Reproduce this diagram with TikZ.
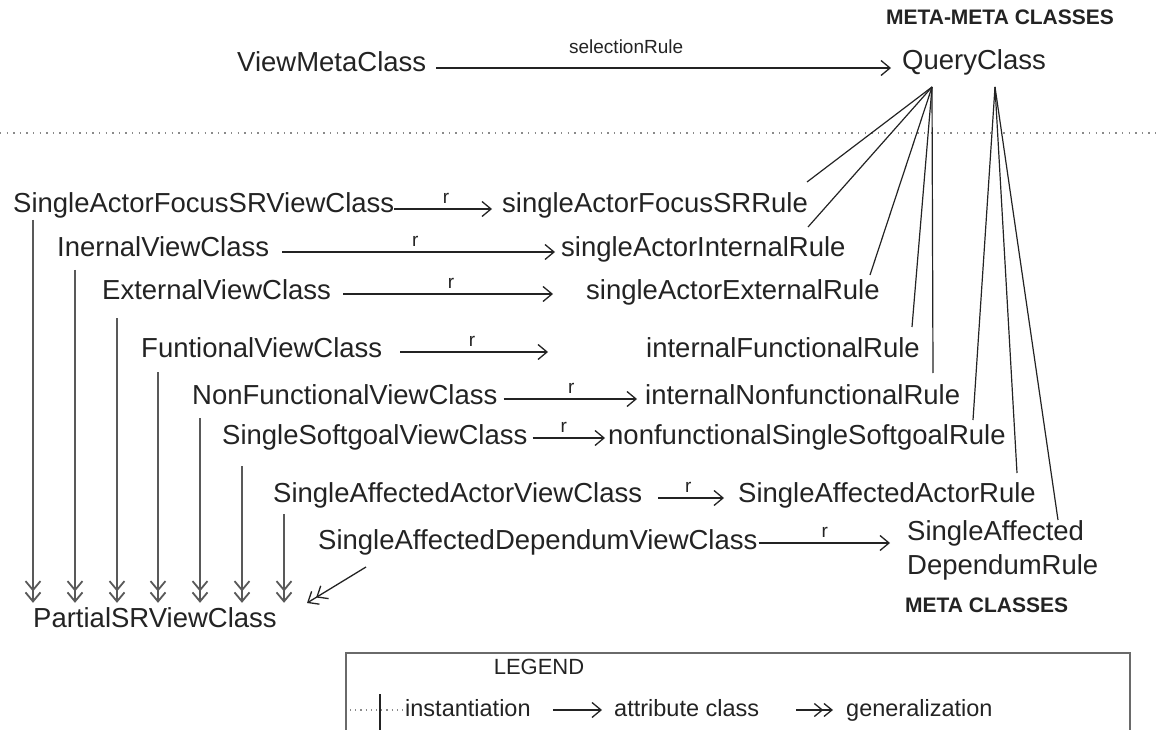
\documentclass[tikz,border=0pt]{standalone}
\usepackage{fontspec}
\setmainfont{Liberation Sans}
\usetikzlibrary{arrows.meta}
\definecolor{ink}{HTML}{232323}
\definecolor{stem}{HTML}{595959}
\definecolor{frame}{HTML}{6A6A6A}
\definecolor{dots}{HTML}{8A8A8A}

\begin{document}
\begin{tikzpicture}[x=1pt,y=-1pt,
  cls/.style={anchor=west, inner sep=0pt, text height=20pt, text depth=6pt,
              font=\fontsize{27.5}{30}\selectfont, text=ink},
  head/.style={inner sep=0pt, font=\bfseries\fontsize{21}{24}\selectfont, text=ink},
  leg/.style={anchor=west, inner sep=0pt, text height=17pt, text depth=5pt,
              font=\fontsize{23.5}{26}\selectfont, text=ink},
  lbl/.style={font=\fontsize{19}{21}\selectfont, text=ink, inner sep=0pt, above=5pt},
  attr/.style={draw=ink, line width=1.3pt,
               -{Straight Barb[length=9pt,width=15pt]}},
  gen/.style={draw=stem, line width=1.8pt,
              -{Straight Barb[length=9pt,width=15pt]Straight Barb[length=9pt,width=15pt]}},
  legen/.style={draw=ink, line width=1.3pt,
              -{Straight Barb[length=8pt,width=13pt]Straight Barb[length=8pt,width=13pt]}},
  inst/.style={draw=ink, line width=1.2pt},
  sep/.style={draw=dots, line width=1.4pt, dash pattern=on 1.4pt off 5.2pt},
]
\useasboundingbox (0,0) rectangle (1160,730);

% ---------- meta-meta level ----------
\node[head] (mmc) at (1000,17) {META-META CLASSES};
\node[cls] (vmc) at (237,65) {ViewMetaClass};
\node[cls] (qc)  at (902,63) {QueryClass};
\draw[attr, shorten <=10pt, shorten >=11pt] ([yshift=-3pt]vmc.east) -- ([yshift=-3pt]vmc.east -| qc.west)
  node[lbl, pos=0.42, above=9pt] {selectionRule};

\draw[sep] (0,133) -- (1160,133);

% ---------- meta level: view classes and their rules ----------
\node[cls] (v1) at (13,206)  {SingleActorFocusSRViewClass};
\node[cls] (r1) at (502,206) {singleActorFocusSRRule};
\node[cls] (v2) at (57,250)  {InernalViewClass};
\node[cls] (r2) at (561,250) {singleActorInternalRule};
\node[cls] (v3) at (102,292) {ExternalViewClass};
\node[cls] (r3) at (586,292) {singleActorExternalRule};
\node[cls] (v4) at (141,350) {FuntionalViewClass};
\node[cls] (r4) at (646,350) {internalFunctionalRule};
\node[cls] (v5) at (192,397) {NonFunctionalViewClass};
\node[cls] (r5) at (645,397) {internalNonfunctionalRule};
\node[cls] (v6) at (222,437) {SingleSoftgoalViewClass};
\node[cls] (r6) at (608,437) {nonfunctionalSingleSoftgoalRule};
\node[cls] (v7) at (273,495) {SingleAffectedActorViewClass};
\node[cls] (r7) at (738,495) {SingleAffectedActorRule};
\node[cls] (v8) at (318,542) {SingleAffectedDependumViewClass};
\node[cls] (r8) at (907,533) {SingleAffected};
\node[cls] (r8b) at (907,567) {DependumRule};
\node[head, anchor=west] (mc) at (905,605) {META CLASSES};
\node[cls] (p) at (33,620) {PartialSRViewClass};

% attribute links (r)
\draw[attr, shorten >=10pt] ([yshift=-3pt]v1.east) -- ([yshift=-3pt]v1.east -| r1.west) node[lbl, pos=0.48] {r};
\draw[attr, shorten <=13pt, shorten >=6pt] ([yshift=-2pt]v2.east) -- ([yshift=-2pt]v2.east -| r2.west) node[lbl, pos=0.5] {r};
\draw[attr, shorten <=12pt, shorten >=33pt] ([yshift=-2pt]v3.east) -- ([yshift=-2pt]v3.east -| r3.west) node[lbl, pos=0.47] {r};
\draw[attr, shorten <=18pt, shorten >=98pt] ([yshift=-2pt]v4.east) -- ([yshift=-2pt]v4.east -| r4.west) node[lbl, pos=0.34] {r};
\draw[attr, shorten <=6pt, shorten >=8pt] ([yshift=-2pt]v5.east) -- ([yshift=-2pt]v5.east -| r5.west) node[lbl, pos=0.5] {r};
\draw[attr, shorten <=5pt, shorten >=3pt] ([yshift=-1pt]v6.east) -- ([yshift=-1pt]v6.east -| r6.west) node[lbl, pos=0.45] {r};
\draw[attr, shorten <=16pt, shorten >=14pt] ([yshift=-3pt]v7.east) -- ([yshift=-3pt]v7.east -| r7.west) node[lbl, pos=0.48] {r};
\draw[attr, shorten <=1pt, shorten >=17pt] ([yshift=-1pt]v8.east) -- ([yshift=-1pt]v8.east -| r8.west) node[lbl, pos=0.45] {r};

% instantiation links from QueryClass
\coordinate (qa) at (932,87);
\coordinate (qb) at (995,87);
\coordinate (e1) at (807,182);
\coordinate (e2) at (808,227);
\coordinate (e3) at (870,275);
\coordinate (e4) at (912,327);
\coordinate (e5) at (933,373);
\coordinate (f1) at (973,420);
\coordinate (f2) at (1017,473);
\coordinate (f3) at (1058,520);
\foreach \e in {e1,e2,e3,e4,e5} \draw[inst] (qa) -- (\e);
\foreach \f in {f1,f2,f3} \draw[inst] (qb) -- (\f);

% generalization links to PartialSRViewClass
\coordinate (g1) at (33,220);
\coordinate (g2) at (75,270);
\coordinate (g3) at (117,318);
\coordinate (g4) at (158,372);
\coordinate (g5) at (200,418);
\coordinate (g6) at (242,466);
\coordinate (g7) at (284,514);
\foreach \g in {g1,g2,g3,g4,g5,g6,g7} \draw[gen, shorten >=4pt] (\g) -- (\g |- p.north);
\coordinate (d0) at (366,567);
\coordinate (d1) at (307,603);
\draw[gen, line width=1.3pt, draw=ink] (d0) -- (d1);

% ---------- legend ----------
\draw[frame, line width=2pt] (346,745) -- (346,653) -- (1130,653) -- (1130,745);
\node[leg, anchor=center, font=\fontsize{22}{24}\selectfont] (lg) at (539,668) {LEGEND};
\coordinate (i0) at (350,710);
\coordinate (i1) at (404,710);
\draw[sep, line width=1.2pt, dash pattern=on 1.2pt off 4pt] (i0) -- (i1);
\coordinate (ib) at (380,694);
\draw[ink, line width=1.4pt] (ib) -- ++(0,50);
\node[leg] (li)  at (405,710) {instantiation};
\node[leg] (lat) at (614,710) {attribute class};
\node[leg] (lgz) at (846,710) {generalization};
\draw[attr, shorten <=22pt, shorten >=12pt] (li.east) -- (lat.west);
\draw[legen, shorten <=37pt, shorten >=13pt] (lat.east) -- (lgz.west);
\end{tikzpicture}
\end{document}
